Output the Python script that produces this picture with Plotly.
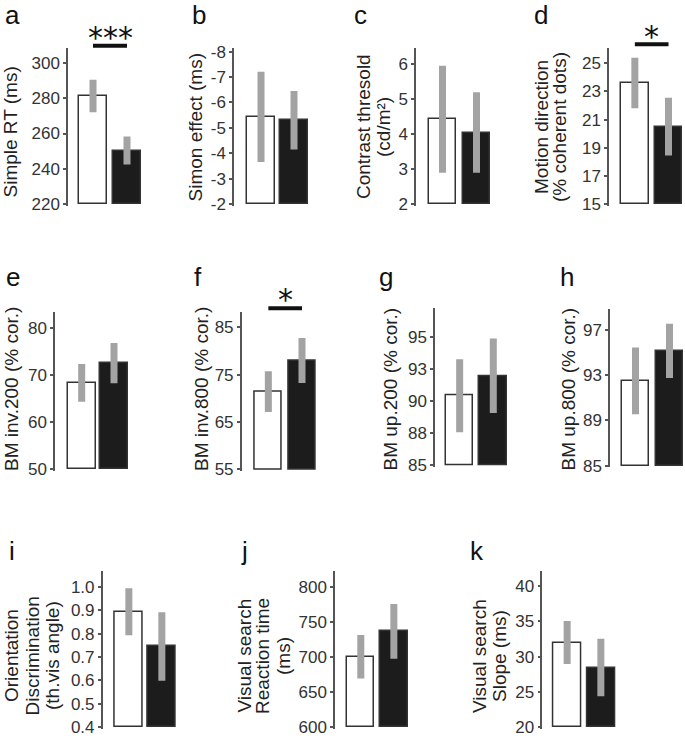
import plotly.graph_objects as go

# ---------------- data ----------------
panel_letters = ['a', 'b', 'c', 'd', 'e', 'f', 'g', 'h', 'i', 'j', 'k']
y_titles = [
    ['Simple RT (ms)'],
    ['Simon effect (ms)'],
    ['Contrast thresold', '(cd/m²)'],
    ['Motion direction', '(% coherent dots)'],
    ['BM inv.200 (% cor.)'],
    ['BM inv.800 (% cor.)'],
    ['BM up.200 (% cor.)'],
    ['BM up.800 (% cor.)'],
    ['Orientation', 'Discrimination', '(th.vis angle)'],
    ['Visual search', 'Reaction time', '(ms)'],
    ['Visual search', 'Slope (ms)'],
]
white_means = [281.3, -5.43, 4.42, 23.6, 68.3, 71.4, 90.4, 92.5, 0.893, 700.4, 32.0]
white_err = [9.2, 1.78, 1.53, 1.8, 4.0, 4.3, 2.85, 2.95, 0.10, 31.0, 3.05]
black_means = [250.3, -5.3, 4.04, 20.5, 72.5, 78.0, 91.95, 95.15, 0.745, 736.5, 28.45]
black_err = [7.95, 1.15, 1.15, 2.05, 4.25, 4.75, 2.9, 2.4, 0.146, 39.0, 4.07]
axis_min = [220, -2, 2, 15, 50, 55, 85, 85, 0.4, 600, 20]
tick_vals = [
    [220, 240, 260, 280, 300],
    [-8, -7, -6, -5, -4, -3, -2],
    [2, 3, 4, 5, 6],
    [15, 17, 19, 21, 23, 25],
    [50, 60, 70, 80],
    [55, 65, 75, 85],
    [85, 87.5, 90, 92.5, 95],
    [85, 89, 93, 97],
    [0.4, 0.5, 0.6, 0.7, 0.8, 0.9, 1.0],
    [600, 650, 700, 750, 800],
    [20, 25, 30, 35, 40],
]
tick_text = [
    ['220', '240', '260', '280', '300'],
    ['-8', '-7', '-6', '-5', '-4', '-3', '-2'],
    ['2', '3', '4', '5', '6'],
    ['15', '17', '19', '21', '23', '25'],
    ['50', '60', '70', '80'],
    ['55', '65', '75', '85'],
    ['85', '88', '90', '93', '95'],
    ['85', '89', '93', '97'],
    ['0.4', '0.5', '0.6', '0.7', '0.8', '0.9', '1.0'],
    ['600', '650', '700', '750', '800'],
    ['20', '25', '30', '35', '40'],
]
tick_top = [300, -8, 6, 25, 80, 85, 95, 97, 1.0, 800, 40]
sig_marks = {0: '***', 3: '*', 5: '*'}

# ---------------- layout geometry (pixels) ----------------
W, H = 685, 736
geom = [
    (68, 79, 107, 113, 141, 204, 63, 48),
    (234, 247, 275, 280, 308, 204, 51.7, 48),
    (416, 429, 456, 463, 490, 204, 64, 48),
    (609, 621.7, 648, 654, 683, 204, 63.3, 48),
    (55, 67.7, 95.7, 100, 128, 469.3, 327.7, 312),
    (241.7, 255, 281.7, 288.3, 315.7, 469.3, 327.3, 311.7),
    (435, 446, 473.3, 479.3, 507.3, 465, 336.7, 308.3),
    (610, 621.7, 649.3, 655.7, 683.3, 465.7, 330, 309),
    (102.7, 115, 142.7, 147.7, 176, 727.3, 586.7, 571),
    (335, 347.3, 374.3, 380, 407.7, 727.3, 586.7, 571),
    (542.3, 553.3, 581, 586.7, 615, 727.3, 586, 571),
]
letter_pos = [(12, 15), (199, 15), (361, 15), (541, 15),
              (13, 277), (198, 277), (386, 277), (567, 277),
              (12.5, 551), (244, 551), (477, 551)]
title_x = [[9.5], [195.5], [364, 384], [542, 560],
           [11], [201], [389.5], [567.5],
           [11, 31.5, 52], [243.5, 262, 283], [479, 499]]
title_y = [132, 127, 127, 127, 389, 389, 389, 389, 656, 656, 656]
sig_pos = {0: (45.7, 34), 3: (44.3, 33.5), 5: (308.3, 296)}

FONT = 'Liberation Sans, Arial, sans-serif'
AXC = '#555555'
ERRC = '#a3a3a3'

fig = go.Figure()
shapes = []
annotations = []


def py(p):
    return 1 - p / H


for i in range(11):
    n = '' if i == 0 else str(i + 1)
    xa, ya = 'x' + n, 'y' + n
    x0, wl, wr, bl, br, ybot, ytick, ytop = geom[i]
    c0, c1 = (wl + wr) / 2, (bl + br) / 2
    d = c1 - c0
    bw = ((wr - wl) + (br - bl)) / 2 / d
    xr = min(br + 2, W)
    ymin = axis_min[i]
    ppu = (ybot - ytick) / (tick_top[i] - ymin)

    def val(p):
        return ymin + (ybot - p) / ppu

    pad = 1.5
    yr = [val(ybot + pad), val(ytop)]

    fig.add_trace(go.Bar(
        x=[0, 1], y=[white_means[i] - ymin, black_means[i] - ymin], base=[ymin, ymin],
        width=bw, marker=dict(color=['#ffffff', '#1c1c1c'],
                              line=dict(color='#333333', width=1.5)),
        xaxis=xa, yaxis=ya, showlegend=False, hoverinfo='skip'))
    fig.add_trace(go.Scatter(
        x=[0, 1], y=[white_means[i], black_means[i]], mode='markers',
        marker=dict(size=1, color='rgba(0,0,0,0)'),
        error_y=dict(type='data', array=[white_err[i], black_err[i]],
                     color=ERRC, thickness=7, width=0),
        xaxis=xa, yaxis=ya, showlegend=False, hoverinfo='skip'))

    fig.layout['xaxis' + n] = dict(
        domain=[x0 / W, xr / W], range=[(x0 - c0) / d, (xr - c0) / d],
        visible=False, anchor=ya, fixedrange=True, automargin=False)
    fig.layout['yaxis' + n] = dict(
        domain=[py(ybot + pad), py(ytop)], range=yr, anchor=xa,
        showline=True, linecolor=AXC, linewidth=1.5,
        ticks='outside', ticklen=3, tickwidth=1.5, tickcolor=AXC,
        tickvals=tick_vals[i], ticktext=tick_text[i], ticklabeloverflow='allow',
        tickfont=dict(family=FONT, size=17, color='#333333'),
        showgrid=False, zeroline=False, fixedrange=True, automargin=False)

    lx, ly = letter_pos[i]
    annotations.append(dict(text=panel_letters[i], x=lx / W, y=py(ly), xref='paper', yref='paper',
                            xanchor='center', yanchor='middle', showarrow=False,
                            font=dict(family=FONT, size=26, color='#111111')))
    for line, tx in zip(y_titles[i], title_x[i]):
        annotations.append(dict(text=line, x=tx / W, y=py(title_y[i]), xref='paper', yref='paper',
                                xanchor='center', yanchor='middle', showarrow=False, textangle=-90,
                                font=dict(family=FONT, size=19, color='#222222')))
    if i in sig_marks:
        ly_line, ly_star = sig_pos[i]
        shapes.append(dict(type='line', xref=xa, yref='paper', x0=0, x1=1,
                           y0=py(ly_line), y1=py(ly_line), line=dict(color='#111111', width=4)))
        annotations.append(dict(text=sig_marks[i], x=0.5, y=py(ly_star + 3), xref=xa, yref='paper',
                                xanchor='center', yanchor='middle', showarrow=False,
                                font=dict(family='DejaVu Sans', size=30, color='#111111')))

fig.update_layout(width=W, height=H, margin=dict(l=0, r=0, t=0, b=0, pad=0, autoexpand=False),
                  paper_bgcolor='white', plot_bgcolor='white',
                  shapes=shapes, annotations=annotations, bargap=0)
fig.write_html('out.html', config={'displayModeBar': False},
               post_script="document.body.style.margin='0px';document.body.style.padding='0px';")
